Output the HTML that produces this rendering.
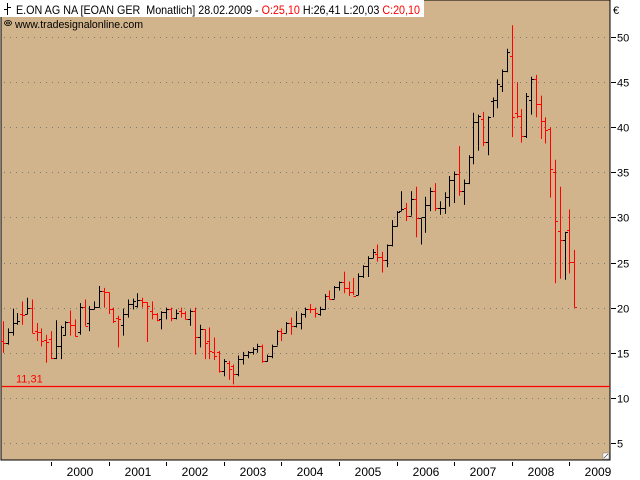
<!DOCTYPE html>
<html>
<head>
<meta charset="utf-8">
<style>
html,body{margin:0;padding:0;background:#fff;}
svg{display:block;font-family:"Liberation Sans",sans-serif;}
</style>
</head>
<body>
<svg id="chart" width="640" height="480" viewBox="0 0 640 480">
  <rect x="1" y="0" width="609" height="460" fill="#D2B48C" stroke="#000" stroke-width="1"/>
  <g id="grid"></g>
  <g id="bars"></g>
  <g id="yaxis"></g>
  <g id="xaxis"></g>
  <line id="supline" x1="2" x2="610" stroke="#FF0000" stroke-width="1.3"/>
  <text id="suplabel" x="16" font-size="11" fill="#FF0000">11,31</text>
  <rect x="0" y="0" width="424" height="17" fill="#fff"/>
  <g stroke="#000" stroke-width="1">
    <line x1="7.5" y1="3" x2="7.5" y2="15"/><line x1="4" y1="9.5" x2="7.5" y2="9.5"/><line x1="7.5" y1="7.5" x2="11" y2="7.5"/>
  </g>
  <text x="16" y="14" font-size="12" textLength="404" lengthAdjust="spacingAndGlyphs">E.ON AG NA [EOAN GER&#160; Monatlich] 28.02.2009 - <tspan fill="#FF0000">O:25,10</tspan> H:26,41 L:20,03 <tspan fill="#FF0000">C:20,10</tspan></text>
  <g stroke="#000" fill="none" stroke-width="0.8">
    <ellipse cx="8" cy="23" rx="3.5" ry="2.5"/><ellipse cx="8" cy="23" rx="1.5" ry="1"/>
  </g>
  <text x="15" y="28" font-size="11" textLength="128" lengthAdjust="spacingAndGlyphs">www.tradesignalonline.com</text>
  <text x="613" y="14" font-size="11">€</text>
  <g>
    <rect x="603" y="453" width="6" height="6" fill="#fff" stroke="#888" stroke-width="0.6"/>
    <line x1="604" y1="458" x2="608" y2="454" stroke="#444" stroke-width="0.7"/>
  </g>
</svg>
<script>
var opens  = [16.3,16.1,17.3,18.3,19.3,19.3,20.0,17.4,17.3,16.4, 16.5,14.4,15.7,17.0,18.4,18.1,17.3,20.1,18.3,19.9,20.1,21.9, 21.7,19.8,18.8,18.1,19.3,20.4,20.2,20.9,20.6,19.6,19.3,18.7, 19.5,19.9,18.9,19.6,19.4,18.7,19.6,16.7,17.6,16.3,15.1,15.1, 13.0,13.9,13.5,12.6,14.3,14.8,15.1,15.4,15.8,14.1,14.6,15.8, 17.4,17.2,18.3,18.0,18.3,19.3,19.9,19.8,19.3,19.8,21.3,21.0,22.3,22.8, 22.2,21.7,21.4,23.5,24.6,25.5,26.0,25.6,25.3,26.9,29.1,30.7, 31.0,30.2,32.1,29.9,30.0,31.4,32.9,31.0,31.1,32.3,34.2,34.8, 32.9,33.8,36.7,40.6,40.9,38.4,42.9,43.0,44.6,46.2,47.9,41.6, 41.2,39.0,43.0,45.4,42.6,40.7,39.8,35.0,28.5,27.5,28.6,25.10];
var highs  = [18.5,17.7,19.9,19.4,20.7,21.1,20.9,18.3,17.7,17.0, 17.4,18.6,18.0,18.5,19.7,18.7,20.5,20.9,20.2,20.7,22.4,22.2, 21.7,20.0,19.1,19.9,20.9,21.0,21.6,21.1,20.6,20.7,19.4,19.6, 20.0,20.0,19.8,20.0,19.6,19.8,20.0,18.1,17.6,17.8,16.7,15.2, 14.3,14.1,13.7,14.7,15.1,15.2,15.6,16.0,15.9,14.8,15.9,17.5, 17.7,18.4,18.9,19.6,19.4,20.0,20.4,20.0,20.1,21.5,21.9,22.4,22.9,24.0, 22.9,23.3,23.8,24.7,25.7,26.5,27.0,26.2,27.0,29.7,30.7,32.9, 31.6,32.9,33.4,29.9,32.3,33.3,33.8,31.8,32.8,34.6,35.1,37.9, 34.2,36.9,41.6,41.4,41.7,41.2,43.3,45.3,46.4,48.7,51.3,45.0, 42.0,43.8,45.6,45.8,43.5,41.1,40.0,36.4,33.4,28.4,30.9,26.41];
var lows   = [15.0,15.9,16.9,18.1,18.1,19.3,17.2,16.3,15.7,13.9, 14.3,14.3,14.3,16.9,16.9,16.8,17.0,18.0,17.4,19.8,20.0,20.0, 19.3,18.3,15.6,16.9,18.9,19.8,20.0,20.0,16.2,18.7,18.5,17.6, 18.7,18.5,18.7,18.9,18.7,18.0,14.8,15.6,14.3,14.3,14.2,12.8, 12.4,12.0,11.5,12.4,13.7,14.4,14.8,15.0,13.9,14.0,14.4,15.8, 16.3,17.2,17.0,17.8,17.6,18.9,19.4,18.9,19.1,19.8,20.9,21.0,21.9,21.6, 21.3,21.4,21.4,23.3,23.4,25.5,25.1,23.9,24.5,26.8,29.0,30.7, 29.6,30.2,27.8,27.0,28.3,30.7,30.7,30.3,30.4,31.2,31.6,32.4, 31.4,33.7,35.9,37.4,37.9,36.9,41.1,42.1,43.9,46.1,38.9,41.0, 38.3,38.8,41.4,41.1,38.7,38.2,32.2,22.7,23.2,23.1,23.8,20.03];
var closes = [16.1,17.3,18.3,18.5,19.2,20.0,17.2,17.3,16.3,16.2, 14.4,15.7,17.9,18.4,18.1,16.9,20.1,18.0,19.8,20.1,21.9,21.7, 19.8,18.5,18.7,19.3,20.4,20.7,20.9,20.6,20.2,19.3,18.6,19.5, 19.9,18.9,19.4,19.4,18.7,19.6,16.7,17.6,16.1,15.2,14.6,13.0, 14.1,13.2,12.6,14.3,14.8,15.1,15.4,15.7,14.1,14.6,15.8,17.4, 17.2,18.3,18.0,18.3,19.3,19.9,19.8,19.4,19.8,21.3,21.0,22.3,22.8,22.2, 21.7,21.3,23.5,24.6,25.5,26.2,25.6,25.3,26.9,29.1,30.6,30.9, 30.2,32.1,29.9,30.0,31.4,32.9,31.0,31.1,32.3,34.2,34.8,32.9, 33.8,36.7,40.6,41.3,38.4,41.1,43.0,44.8,46.2,48.3,41.1,41.2, 39.0,43.5,45.4,42.6,40.7,39.7,35.4,29.6,27.5,28.4,25.1,20.10];
var yTicks = [5,10,15,20,25,30,35,40,45,50];
var years  = [2000,2001,2002,2003,2004,2005,2006,2007,2008,2009];
var supportLevel = 11.31;
var startYear = 1999, startMonth = 3;

var NS = "http://www.w3.org/2000/svg";
function yS(v){ return 443 - (v - 5) * 9.022; }
function xS(i){ return 3 + i * 4.8; }
function monthIndex(year, month){ return (year - startYear) * 12 + (month - startMonth); }
function mk(tag, attrs, parent){
  var e = document.createElementNS(NS, tag);
  for (var k in attrs) e.setAttribute(k, attrs[k]);
  parent.appendChild(e); return e;
}
var grid = document.getElementById('grid');
var yaxis = document.getElementById('yaxis');
var xaxis = document.getElementById('xaxis');
var bars = document.getElementById('bars');

yTicks.forEach(function(t){
  var y = Math.round(yS(t)) + 0.5;
  var g = mk('line', {x1:4, x2:609, y1:y, y2:y, stroke:'#7a7a7a', 'stroke-width':1, 'stroke-dasharray':'1,5'}, grid);
  
  
  var tk = mk('line', {x1:611, x2:616, y1:y, y2:y, stroke:'#000', 'stroke-width':1}, yaxis);
  
  
  var lb = mk('text', {x:617, y:y + 4, 'font-size':11, fill:'#000'}, yaxis);
  lb.textContent = String(t);
  
  
});

years.forEach(function(yr){
  var x = Math.round(xS(monthIndex(yr, 1))) + 0.5;
  var tk = mk('line', {x1:x, x2:x, y1:462, y2:466, stroke:'#000', 'stroke-width':1}, xaxis);
  
  
  var lb = mk('text', {x:x + 28.5, y:476, 'font-size':12, 'text-anchor':'middle', fill:'#000'}, xaxis);
  lb.textContent = String(yr);
  
  
});

for (var i = 0; i < opens.length; i++){
  var x = Math.round(xS(i)) + 0.5;
  var col = closes[i] < opens[i] ? '#FF0000' : '#000000';
  var g = mk('g', {stroke:col, 'stroke-width':1}, bars);
  
  
  mk('line', {x1:x, x2:x, y1:yS(highs[i]), y2:yS(lows[i])}, g);
  var yo = Math.round(yS(opens[i])) + 0.5, yc = Math.round(yS(closes[i])) + 0.5;
  mk('line', {x1:x - 2.5, x2:x, y1:yo, y2:yo}, g);
  mk('line', {x1:x, x2:x + 2.5, y1:yc, y2:yc}, g);
}

var sy = Math.round(yS(supportLevel)) + 0.5;
var sl = document.getElementById('supline');
sl.setAttribute('y1', sy); sl.setAttribute('y2', sy);
document.getElementById('suplabel').setAttribute('y', sy - 4);
</script>
</body>
</html>
